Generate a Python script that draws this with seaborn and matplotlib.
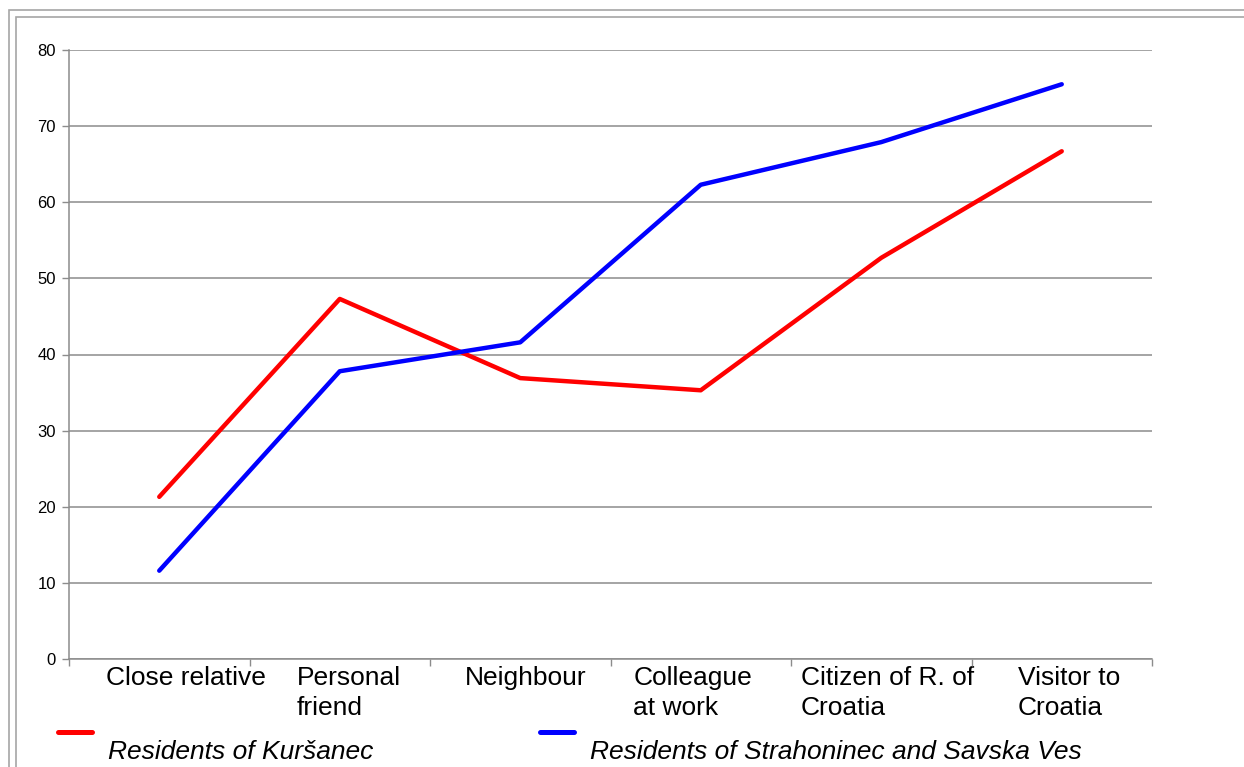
import matplotlib
matplotlib.use("Agg")
import matplotlib.pyplot as plt
import matplotlib.transforms as mtransforms
import seaborn as sns
import pandas as pd
from matplotlib.patches import Rectangle

categories = ["Close relative", "Personal\nfriend", "Neighbour", "Colleague\nat work",
              "Citizen of R. of\nCroatia", "Visitor to\nCroatia"]
kursanec = [21.3, 47.3, 36.9, 35.3, 52.7, 66.7]
strahoninec = [11.6, 37.8, 41.6, 62.3, 67.9, 75.5]
series_names = ["Residents of Kuršanec", "Residents of Strahoninec and Savska Ves"]
yticks = [0, 10, 20, 30, 40, 50, 60, 70, 80]

sns.set_theme(style="white")
plt.rcParams['font.family'] = ['Liberation Sans', 'DejaVu Sans']
plt.rcParams['text.color'] = 'black'
plt.rcParams['xtick.color'] = 'black'
plt.rcParams['ytick.color'] = 'black'

df = pd.DataFrame({
    "pos": list(range(len(categories))) * 2,
    "value": kursanec + strahoninec,
    "series": [series_names[0]] * len(categories) + [series_names[1]] * len(categories),
})

W, H = 1244, 767
fig = plt.figure(figsize=(W / 100, H / 100), dpi=100)
ax = fig.add_axes([69 / W, 1 - 659 / H, (1152 - 69) / W, (659 - 50) / H])

sns.lineplot(data=df, x="pos", y="value", hue="series",
             palette={series_names[0]: "#ff0000", series_names[1]: "#0000ff"},
             linewidth=3.2, ax=ax, legend=False, sort=False)

ax.set_xlim(-0.5, len(categories) - 0.5)
ax.set_ylim(0, 80)
ax.set_yticks(yticks)
ax.set_yticklabels([str(v) for v in yticks], fontsize=12, color="black")
ax.yaxis.grid(True, color="#8c8c8c", linewidth=1.1)
ax.xaxis.grid(False)
ax.set_xlabel("")
ax.set_ylabel("")

ax.set_xticks(range(len(categories)))
ax.set_xticklabels(categories, fontsize=19, ha="center", multialignment="left",
                   linespacing=1.3, color="black")
ax.tick_params(axis="x", which="major", length=0, pad=5)
ax.set_xticks([i - 0.5 for i in range(len(categories) + 1)], minor=True)
ax.tick_params(axis="x", which="minor", length=5, width=1, color="#8c8c8c",
               direction="out", bottom=True)
ax.tick_params(axis="y", length=5, width=1, color="#8c8c8c", direction="out",
               left=True, pad=4.5)

for s in ["top", "right"]:
    ax.spines[s].set_visible(False)
for s in ["left", "bottom"]:
    ax.spines[s].set_color("#8c8c8c")
    ax.spines[s].set_linewidth(1.1)

# small horizontal nudges of category labels (pixels), as in the original layout
label_nudge_px = [27, 9, 5, -8, 6, 7]
for lab, dx in zip(ax.get_xticklabels(), label_nudge_px):
    off = mtransforms.ScaledTranslation(dx / 100, 0, fig.dpi_scale_trans)
    lab.set_transform(lab.get_transform() + off)

# legend
handles = [plt.Line2D([], [], color="#ff0000", linewidth=3.6),
           plt.Line2D([], [], color="#0000ff", linewidth=3.6)]
leg = fig.legend(handles, series_names, loc="upper left",
                 bbox_to_anchor=(58 / W, 1 - 706 / H), ncol=2, frameon=False,
                 prop={"size": 19, "style": "italic"},
                 handlelength=1.3, handletextpad=0.6, columnspacing=6.3,
                 handleheight=5.0, borderpad=0, borderaxespad=0)
for t in leg.get_texts():
    t.set_color("black")

# double border frame
fig.patches.append(Rectangle((9 / W, -0.5), 2.0, 1 - 10 / H + 0.5, transform=fig.transFigure,
                             fill=False, edgecolor="#a6a6a6", linewidth=1.2))
fig.patches.append(Rectangle((16 / W, -0.5), 2.0, 1 - 17 / H + 0.5, transform=fig.transFigure,
                             fill=False, edgecolor="#a6a6a6", linewidth=1.2))

fig.savefig("out.png", dpi=100)
